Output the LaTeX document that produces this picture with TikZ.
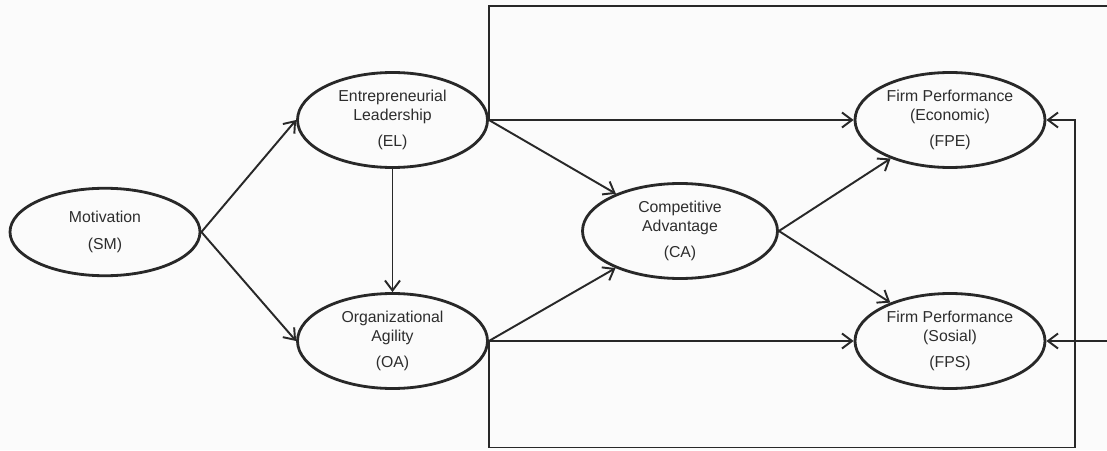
\documentclass[tikz,border=0pt]{standalone}
\usepackage{fontspec}
\setmainfont{Liberation Sans}
\definecolor{linegray}{RGB}{40, 40, 40}
\definecolor{textgray}{RGB}{45, 45, 45}
\definecolor{paper}{RGB}{251, 251, 251}
\usetikzlibrary{shapes.geometric, arrows.meta, positioning}

\begin{document}
\begin{tikzpicture}[
  construct/.style={draw=linegray, ellipse, line width=1.6pt, minimum width=3.8cm, minimum height=1.9cm, inner sep=0pt, font=\fontsize{9}{11}\selectfont, text=textgray, align=center},
  link/.style={-{Straight Barb[length=2mm, width=3mm]}, line width=1.1pt, linegray}
]
  % Canvas
  \fill[paper] (0, 0) rectangle (22.14, 9);
  \useasboundingbox (0, 0) rectangle (22.14, 9);

  % Constructs
  \node[construct, minimum height=1.75cm] (sm) at (2.1, 4.36) {Motivation\\[4pt](SM)};
  \node[construct] (el) at (7.85, 6.6) {Entrepreneurial\\Leadership\\[4pt](EL)};
  \node[construct] (oa) at (7.85, 2.18) {Organizational\\Agility\\[4pt](OA)};
  \node[construct, minimum width=3.9cm] (ca) at (13.6, 4.38) {Competitive\\Advantage\\[4pt](CA)};
  \node[construct] (fpe) at (19.0, 6.6) {Firm Performance\\(Economic)\\[4pt](FPE)};
  \node[construct] (fps) at (19.0, 2.18) {Firm Performance\\(Sosial)\\[4pt](FPS)};

  % Corners of the routed paths
  \coordinate (topright) at (22.2, 8.88);
  \coordinate (botright) at (21.5, 0.05);

  % Direct paths
  \draw[link] (sm.east) -- (el.west);
  \draw[link] (sm.east) -- (oa.west);
  \draw[link] (el) -- (oa);
  \draw[link] (el.east) -- (ca);
  \draw[link] (oa.east) -- (ca);
  \draw[link] (el.east) -- (fpe.west);
  \draw[link] (oa.east) -- (fps.west);
  \draw[link] (ca.east) -- (fpe);
  \draw[link] (ca.east) -- (fps);

  % Routed paths
  \draw[link] (el.east) |- (topright) |- (fps.east);
  \draw[link] (oa.east) |- (botright) |- (fpe.east);
\end{tikzpicture}
\end{document}
